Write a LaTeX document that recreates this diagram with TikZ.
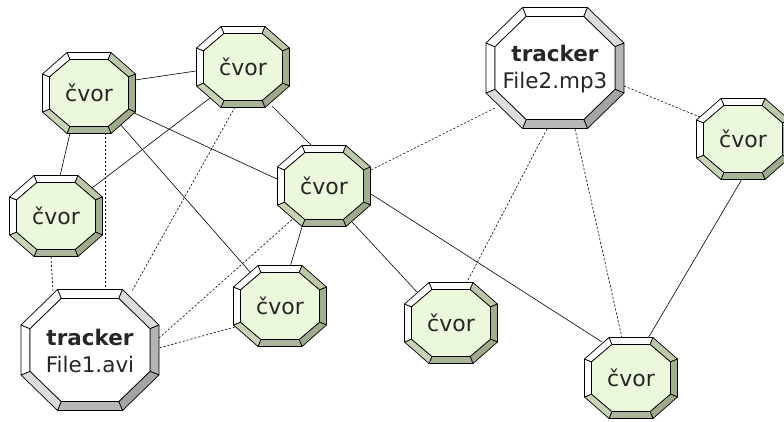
\documentclass[tikz,border=0pt]{standalone}
\usepackage{fontspec}
\setmainfont{DejaVu Sans}
\usetikzlibrary{calc}
\pgfdeclarelayer{bg}
\pgfsetlayers{bg,main}
% cvor bevel colours
\definecolor{cvT}{HTML}{FFFFFF}
\definecolor{cvTL}{HTML}{FFFFFF}
\definecolor{cvL}{HTML}{FFFFFF}
\definecolor{cvTR}{HTML}{BCC8AA}
\definecolor{cvR}{HTML}{A2AE90}
\definecolor{cvBR}{HTML}{9EAA8C}
\definecolor{cvB}{HTML}{AAB698}
\definecolor{cvBL}{HTML}{C8D4B6}
\definecolor{cvIn}{HTML}{EBF8DC}
% tracker bevel colours
\definecolor{trT}{HTML}{FFFFFF}
\definecolor{trTL}{HTML}{FFFFFF}
\definecolor{trL}{HTML}{FFFFFF}
\definecolor{trTR}{HTML}{DCDCDC}
\definecolor{trR}{HTML}{B4B4B4}
\definecolor{trBR}{HTML}{A4A4A4}
\definecolor{trB}{HTML}{B8B8B8}
\definecolor{trBL}{HTML}{DCDCDC}
\definecolor{trIn}{HTML}{FFFFFF}
% #1 centre, #2 half width, #3 half height, #4 half top edge, #5 half side edge, #6 bevel, #7 colour prefix
\newcommand\bevoct[7]{%
 \begin{scope}[shift={#1}]
  \pgfmathsetmacro\myia{#4-0.414*#6}
  \pgfmathsetmacro\myib{#5-0.414*#6}
  \pgfmathsetmacro\myiW{#2-#6}
  \pgfmathsetmacro\myiH{#3-#6}
  \coordinate (o1) at (-#4,-#3); \coordinate (o2) at (#4,-#3);
  \coordinate (o3) at (#2,-#5);  \coordinate (o4) at (#2,#5);
  \coordinate (o5) at (#4,#3);   \coordinate (o6) at (-#4,#3);
  \coordinate (o7) at (-#2,#5);  \coordinate (o8) at (-#2,-#5);
  \coordinate (i1) at (-\myia,-\myiH); \coordinate (i2) at (\myia,-\myiH);
  \coordinate (i3) at (\myiW,-\myib);  \coordinate (i4) at (\myiW,\myib);
  \coordinate (i5) at (\myia,\myiH);   \coordinate (i6) at (-\myia,\myiH);
  \coordinate (i7) at (-\myiW,\myib);  \coordinate (i8) at (-\myiW,-\myib);
  \filldraw[octline,fill=#7T]  (o1)--(o2)--(i2)--(i1)--cycle;
  \filldraw[octline,fill=#7TR] (o2)--(o3)--(i3)--(i2)--cycle;
  \filldraw[octline,fill=#7R]  (o3)--(o4)--(i4)--(i3)--cycle;
  \filldraw[octline,fill=#7BR] (o4)--(o5)--(i5)--(i4)--cycle;
  \filldraw[octline,fill=#7B]  (o5)--(o6)--(i6)--(i5)--cycle;
  \filldraw[octline,fill=#7BL] (o6)--(o7)--(i7)--(i6)--cycle;
  \filldraw[octline,fill=#7L]  (o7)--(o8)--(i8)--(i7)--cycle;
  \filldraw[octline,fill=#7TL] (o8)--(o1)--(i1)--(i8)--cycle;
  \filldraw[octline,fill=#7In] (i1)--(i2)--(i3)--(i4)--(i5)--(i6)--(i7)--(i8)--cycle;
 \end{scope}}
\newcommand\cvor[2]{\bevoct{#1}{46.5}{40.5}{22}{19}{7}{cv}\node[txt] (#2) at #1 {čvor};}
\newcommand\trk[3]{\bevoct{#1}{69}{60.5}{32.5}{25}{9}{tr}\node[trtxt] (#2) at #1 {\textbf{tracker}\\#3};}
\tikzset{
 octline/.style={draw=black,line width=0.7pt,line join=round},
 txt/.style={inner sep=0pt,font=\fontsize{22}{26}\selectfont,text=black!85},
 trtxt/.style={inner sep=0pt,align=center,font=\fontsize{21.5}{27}\selectfont,text=black!85,yshift=-1pt},
 conn/.style={draw=black,line width=0.6pt},
 dconn/.style={draw=black,line width=0.6pt,dash pattern=on 2.2pt off 1.8pt},
}
\begin{document}
\begin{tikzpicture}[x=1pt,y=-1pt]
\useasboundingbox (0,0) rectangle (784,421);
\cvor{(89,93)}{A}
\cvor{(243,67)}{B}
\cvor{(56,216)}{C}
\cvor{(324,186)}{D}
\cvor{(280,306)}{E}
\cvor{(451,323)}{F}
\cvor{(631,378)}{G}
\cvor{(743,139)}{H}
\trk{(90,350)}{T1}{File1.avi}
\trk{(555,68)}{T2}{File2.mp3}
\begin{pgfonlayer}{bg}
\draw[conn] ([shift={(46,-13)}]A.center) -- ([shift={(-47,4)}]B.center);
\draw[conn] ([shift={(-19,40)}]A.center) -- ([shift={(4,-40)}]C.center);
\draw[conn] ([shift={(43,19)}]A.center) -- ([shift={(-47,-7)}]D.center);
\draw[conn] ([shift={(31,31)}]A.center) -- ([shift={(-30,-34)}]E.center);
\draw[conn] ([shift={(-33,31)}]B.center) -- ([shift={(36,-28)}]C.center);
\draw[conn] ([shift={(29,39)}]B.center) -- ([shift={(-12,-40)}]D.center);
\draw[conn] ([shift={(-22,41)}]D.center) -- ([shift={(10,-39)}]E.center);
\draw[conn] ([shift={(28,36)}]D.center) -- ([shift={(-34,-31)}]F.center);
\draw[conn] ([shift={(47,8)}]D.center) -- ([shift={(-29,-36)}]G.center);
\draw[conn] ([shift={(-1,40)}]H.center) -- ([shift={(16,-38)}]G.center);
\draw[dconn] ([shift={(16,40)}]A.center) -- ([shift={(15,-61)}]T1.center);
\draw[dconn] ([shift={(-5,41)}]C.center) -- ([shift={(-37,-60)}]T1.center);
\draw[dconn] ([shift={(-8,40)}]B.center) -- ([shift={(42,-60)}]T1.center);
\draw[dconn] ([shift={(-29,31)}]D.center) -- ([shift={(69,-13)}]T1.center);
\draw[dconn] ([shift={(-45,21)}]E.center) -- ([shift={(69,-3)}]T1.center);
\draw[dconn] ([shift={(47,-16)}]D.center) -- ([shift={(-60,39)}]T2.center);
\draw[dconn] ([shift={(69,17)}]T2.center) -- ([shift={(-43,-22)}]H.center);
\draw[dconn] ([shift={(-8,60)}]T2.center) -- ([shift={(16,-41)}]F.center);
\draw[dconn] ([shift={(20,60)}]T2.center) -- ([shift={(-9,-40)}]G.center);
\end{pgfonlayer}
\end{tikzpicture}
\end{document}
